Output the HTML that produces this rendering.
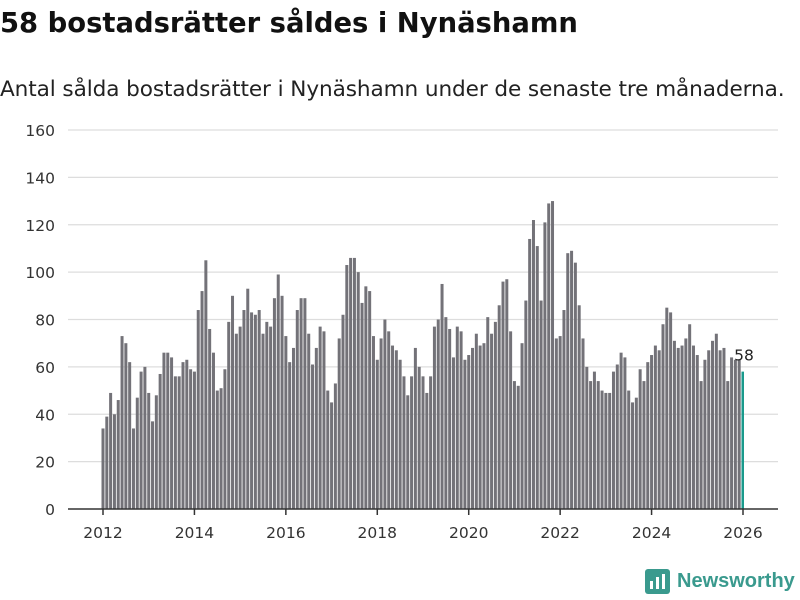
<!DOCTYPE html>
<html><head><meta charset="utf-8"><style>
body{margin:0;background:#fff;font-family:"DejaVu Sans","Liberation Sans",sans-serif;}
#wrap{position:relative;width:800px;height:600px;overflow:hidden}
h1{position:absolute;left:0;top:8px;margin:0;font-size:27.4px;font-weight:bold;color:#111;letter-spacing:0px;white-space:nowrap}
#sub{position:absolute;left:0;top:77px;margin:0;font-size:21.6px;color:#222;letter-spacing:-0.1px;white-space:nowrap}
#logo{position:absolute;left:645px;top:569px;display:flex;align-items:center;gap:7px}
#logo span{font-size:20px;font-weight:bold;color:#3a9a8e;font-family:"Liberation Sans",sans-serif}
</style></head><body>
<div id="wrap">
<h1>58 bostadsrätter såldes i Nynäshamn</h1>
<p id="sub">Antal sålda bostadsrätter i Nynäshamn under de senaste tre månaderna.</p>
<svg id="chart" width="800" height="600" style="position:absolute;left:0;top:0"></svg>
<div id="logo">
<svg width="25" height="25"><rect x="0" y="0" width="25" height="25" rx="3" fill="#3a9a8e"/><rect x="5" y="12" width="3" height="8" fill="#fff"/><rect x="11" y="8" width="3" height="12" fill="#fff"/><rect x="17" y="5" width="3" height="15" fill="#fff"/></svg>
<span>Newsworthy</span></div>
</div>
<script>
const values = [
34,39,49,40,46,73,70,62,34,47,58,60,
49,37,48,57,66,66,64,56,56,62,63,59,
58,84,92,105,76,66,50,51,59,79,90,74,
77,84,93,83,82,84,74,79,77,89,99,90,
73,62,68,84,89,89,74,61,68,77,75,50,
45,53,72,82,103,106,106,100,87,94,92,73,
63,72,80,75,69,67,63,56,48,56,68,60,
56,49,56,77,80,95,81,76,64,77,75,63,
65,68,74,69,70,81,74,79,86,96,97,75,
54,52,70,88,114,122,111,88,121,129,130,72,
73,84,108,109,104,86,72,60,54,58,54,50,
49,49,58,61,66,64,50,45,47,59,54,62,
65,69,67,78,85,83,71,68,69,72,78,69,
65,54,63,67,71,74,67,68,54,64,63,63,
58];
const startYear = 2012;
const yTicks = [0,20,40,60,80,100,120,140,160];
const xTicks = [2012,2014,2016,2018,2020,2022,2024,2026];
const ns="http://www.w3.org/2000/svg";
const svg=document.getElementById('chart');
const y0=509,y1=130,x0=103,x1=743;
const y=v=>y0-(v/160)*(y0-y1);
const x=m=>x0+(m/168)*(x1-x0);
function mk(t,a){const e=document.createElementNS(ns,t);for(const k in a)e.setAttribute(k,a[k]);svg.appendChild(e);return e;}
yTicks.forEach(t=>{
  if(t>0){const g=mk('line',{x1:68,x2:778,y1:y(t),y2:y(t),stroke:'#ddd','stroke-width':1.3});
  
  }
  const l=mk('text',{x:55,y:y(t)+6,'text-anchor':'end','font-size':15.5,fill:'#333','font-family':'DejaVu Sans, sans-serif'});
  l.textContent=t;
  
  
});
values.forEach((v,i)=>{
  const last=i===values.length-1;
  const r=mk('rect',{x:x(i)-1.5,y:y(v),width:last?2.5:3,height:y0-y(v),fill:last?'#1a9a8c':'#737278'});
  
  
});
const lv=values[values.length-1];
const lab=mk('text',{x:x(values.length-1)+1,y:y(lv)-11,'text-anchor':'middle','font-size':15.5,fill:'#222','font-family':'DejaVu Sans, sans-serif'});
lab.textContent=lv;


const ax=mk('line',{x1:68,x2:778,y1:y0,y2:y0,stroke:'#333','stroke-width':1.5});


xTicks.forEach(yr=>{
  const px=x((yr-startYear)*12);
  const tk=mk('line',{x1:px,x2:px,y1:y0,y2:y0+6,stroke:'#333','stroke-width':1.5});
  
  
  const t=mk('text',{x:px,y:538,'text-anchor':'middle','font-size':15.5,fill:'#333','font-family':'DejaVu Sans, sans-serif'});
  t.textContent=yr;
  
  
});
</script>
</body></html>
